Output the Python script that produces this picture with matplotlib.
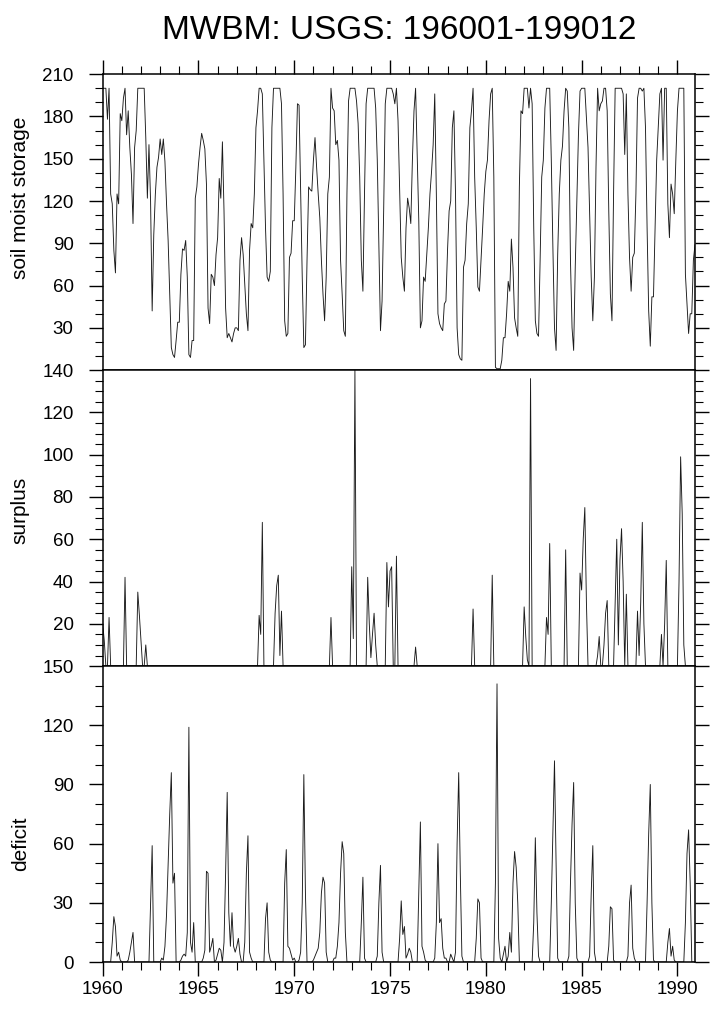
import numpy as np
import matplotlib
matplotlib.use("Agg")
import matplotlib.pyplot as plt
from matplotlib import font_manager

# monthly values 196001-199012, one row per year
soil = [
    200, 200, 200, 178, 200, 125, 118, 85, 69, 125, 118, 182,   # 1960
    177, 193, 200, 167, 184, 158, 139, 104, 158, 170, 200, 200,  # 1961
    200, 200, 200, 165, 122, 160, 120, 42, 96, 125, 144, 151,    # 1962
    164, 153, 164, 148, 118, 92, 54, 16, 11, 9, 21, 34,          # 1963
    34, 68, 86, 85, 92, 66, 11, 9, 21, 21, 122, 130,             # 1964
    146, 158, 168, 163, 157, 132, 44, 33, 68, 66, 60, 82,        # 1965
    94, 136, 122, 162, 113, 44, 23, 26, 23, 20, 26, 30,          # 1966
    30, 28, 78, 94, 82, 61, 40, 28, 85, 104, 101, 125,           # 1967
    172, 184, 200, 200, 196, 148, 101, 66, 63, 70, 172, 200,     # 1968
    200, 200, 200, 200, 189, 125, 35, 24, 26, 80, 83, 106,       # 1969
    106, 144, 189, 188, 125, 66, 16, 18, 78, 130, 128, 127,      # 1970
    149, 165, 144, 125, 108, 78, 54, 35, 66, 125, 137, 200,      # 1971
    186, 184, 160, 163, 149, 78, 54, 28, 24, 125, 191, 200,      # 1972
    200, 200, 200, 191, 175, 137, 78, 56, 125, 189, 200, 200,    # 1973
    200, 200, 200, 186, 149, 89, 28, 49, 113, 189, 200, 200,     # 1974
    200, 200, 196, 189, 200, 177, 127, 80, 66, 56, 101, 122,     # 1975
    115, 104, 149, 184, 200, 153, 106, 30, 35, 66, 63, 82,       # 1976
    101, 125, 141, 160, 196, 125, 40, 33, 30, 28, 47, 49,        # 1977
    85, 113, 120, 172, 184, 125, 30, 11, 8, 7, 73, 78,           # 1978
    104, 118, 172, 184, 200, 137, 101, 59, 56, 78, 101, 125,     # 1979
    141, 149, 177, 196, 200, 137, 2, 1, 1, 1, 7, 23,             # 1980
    23, 40, 63, 56, 93, 73, 37, 30, 24, 130, 184, 182,           # 1981
    200, 200, 200, 186, 200, 189, 101, 35, 26, 24, 78, 137,      # 1982
    149, 186, 200, 200, 200, 149, 87, 30, 14, 82, 125, 149,      # 1983
    159, 184, 200, 198, 172, 78, 30, 14, 73, 120, 167, 198,      # 1984
    200, 200, 200, 179, 158, 111, 66, 35, 66, 144, 200, 184,     # 1985
    189, 191, 200, 200, 184, 113, 54, 35, 125, 200, 200, 200,    # 1986
    200, 200, 196, 153, 196, 125, 80, 56, 80, 83, 125, 193,      # 1987
    200, 200, 198, 200, 172, 101, 42, 17, 52, 52, 101, 149,      # 1988
    172, 196, 200, 149, 200, 200, 118, 94, 132, 125, 111, 149,   # 1989
    184, 200, 200, 200, 200, 68, 47, 26, 40, 40, 78, 89,         # 1990
]

surplus = [
    20, 12, 0, 0, 23, 0, 0, 0, 0, 0, 0, 0,        # 1960
    0, 0, 42, 0, 0, 0, 0, 0, 0, 0, 35, 24,        # 1961
    12, 0, 0, 10, 0, 0, 0, 0, 0, 0, 0, 0,         # 1962
    0, 0, 0, 0, 0, 0, 0, 0, 0, 0, 0, 0,           # 1963
    0, 0, 0, 0, 0, 0, 0, 0, 0, 0, 0, 0,           # 1964
    0, 0, 0, 0, 0, 0, 0, 0, 0, 0, 0, 0,           # 1965
    0, 0, 0, 0, 0, 0, 0, 0, 0, 0, 0, 0,           # 1966
    0, 0, 0, 0, 0, 0, 0, 0, 0, 0, 0, 0,           # 1967
    0, 0, 24, 15, 68, 0, 0, 0, 0, 0, 0, 0,        # 1968
    25, 38, 43, 5, 26, 0, 0, 0, 0, 0, 0, 0,       # 1969
    0, 0, 0, 0, 0, 0, 0, 0, 0, 0, 0, 0,           # 1970
    0, 0, 0, 0, 0, 0, 0, 0, 0, 0, 0, 23,          # 1971
    0, 0, 0, 0, 0, 0, 0, 0, 0, 0, 0, 0,           # 1972
    47, 13, 140, 0, 0, 0, 0, 0, 0, 0, 42, 20,     # 1973
    4, 15, 25, 10, 0, 0, 0, 0, 0, 0, 49, 28,      # 1974
    45, 47, 0, 0, 52, 0, 0, 0, 0, 0, 0, 0,        # 1975
    0, 0, 0, 0, 9, 0, 0, 0, 0, 0, 0, 0,           # 1976
    0, 0, 0, 0, 0, 0, 0, 0, 0, 0, 0, 0,           # 1977
    0, 0, 0, 0, 0, 0, 0, 0, 0, 0, 0, 0,           # 1978
    0, 0, 0, 0, 27, 0, 0, 0, 0, 0, 0, 0,          # 1979
    0, 0, 0, 0, 43, 0, 0, 0, 0, 0, 0, 0,          # 1980
    0, 0, 0, 0, 0, 0, 0, 0, 0, 0, 0, 0,           # 1981
    28, 14, 3, 0, 136, 0, 0, 0, 0, 0, 0, 0,       # 1982
    0, 0, 23, 15, 58, 0, 0, 0, 0, 0, 0, 0,        # 1983
    0, 0, 55, 0, 0, 0, 0, 0, 0, 0, 0, 44,         # 1984
    36, 60, 75, 30, 0, 0, 0, 0, 0, 0, 5, 14,      # 1985
    0, 0, 10, 25, 31, 0, 0, 0, 0, 30, 60, 10,     # 1986
    50, 65, 40, 0, 34, 0, 0, 0, 0, 0, 0, 26,      # 1987
    5, 30, 68, 20, 0, 0, 0, 0, 0, 0, 0, 0,        # 1988
    0, 0, 15, 0, 20, 50, 0, 0, 0, 0, 0, 0,        # 1989
    0, 40, 99, 72, 10, 0, 0, 0, 0, 0, 0, 0,       # 1990
]

deficit = [
    0, 0, 0, 0, 0, 0, 10, 23, 18, 3, 5, 1,        # 1960
    0, 0, 0, 0, 1, 5, 10, 15, 0, 0, 0, 0,         # 1961
    0, 0, 0, 0, 0, 0, 30, 59, 0, 0, 0, 0,         # 1962
    0, 2, 1, 8, 24, 50, 75, 96, 40, 45, 0, 0,     # 1963
    0, 1, 3, 4, 3, 15, 119, 10, 5, 20, 0, 0,      # 1964
    0, 0, 0, 2, 6, 46, 45, 5, 8, 12, 0, 1,        # 1965
    4, 7, 6, 0, 10, 45, 86, 25, 8, 25, 8, 5,      # 1966
    8, 12, 4, 0, 0, 10, 45, 64, 5, 2, 0, 0,       # 1967
    0, 0, 0, 0, 0, 0, 22, 30, 5, 1, 0, 0,         # 1968
    0, 0, 0, 0, 0, 0, 40, 57, 8, 7, 4, 1,         # 1969
    2, 0, 0, 1, 5, 30, 95, 35, 0, 0, 0, 0,        # 1970
    1, 3, 5, 7, 15, 35, 43, 40, 5, 0, 0, 0,       # 1971
    0, 2, 2, 8, 20, 45, 61, 55, 15, 0, 0, 0,      # 1972
    0, 0, 0, 0, 0, 0, 20, 43, 2, 0, 0, 0,         # 1973
    0, 0, 0, 0, 3, 30, 49, 5, 0, 0, 0, 0,         # 1974
    0, 0, 0, 0, 0, 0, 12, 31, 14, 18, 2, 4,       # 1975
    7, 5, 0, 0, 0, 0, 35, 71, 8, 5, 1, 0,         # 1976
    0, 0, 0, 0, 2, 20, 60, 20, 22, 7, 2, 2,       # 1977
    0, 0, 4, 2, 0, 5, 60, 96, 45, 3, 0, 0,        # 1978
    0, 0, 0, 0, 0, 0, 12, 32, 30, 2, 0, 0,        # 1979
    0, 0, 0, 0, 0, 0, 40, 141, 12, 2, 0, 4,       # 1980
    8, 0, 3, 15, 5, 40, 56, 48, 30, 0, 0, 0,      # 1981
    0, 0, 0, 0, 0, 0, 20, 63, 25, 3, 0, 0,        # 1982
    0, 0, 0, 0, 0, 30, 65, 102, 50, 2, 0, 0,      # 1983
    0, 0, 0, 0, 3, 40, 70, 91, 30, 2, 0, 0,       # 1984
    0, 0, 0, 0, 0, 3, 35, 59, 5, 0, 0, 0,         # 1985
    0, 0, 0, 0, 0, 8, 28, 27, 1, 0, 0, 0,         # 1986
    0, 0, 0, 0, 0, 3, 30, 39, 7, 2, 0, 0,         # 1987
    0, 0, 0, 0, 0, 30, 65, 90, 30, 1, 0, 0,       # 1988
    0, 0, 0, 0, 0, 0, 10, 17, 3, 8, 1, 0,         # 1989
    0, 0, 0, 0, 0, 20, 55, 67, 40, 0, 0, 0,       # 1990
]

title = "MWBM: USGS: 196001-199012"
ylabels = ["soil moist storage", "surplus", "deficit"]
year_ticks = [1960, 1965, 1970, 1975, 1980, 1985, 1990]

time = 1960 + np.arange(len(soil)) / 12.0

names = {f.name for f in font_manager.fontManager.ttflist}
plt.rcParams['font.family'] = ['Liberation Sans', 'DejaVu Sans']
narrow = 'Liberation Sans Narrow' if 'Liberation Sans Narrow' in names else 'Liberation Sans'

fig = plt.figure(figsize=(7.19, 10.16), dpi=100)

left, width, h = 0.1428, 0.8238, 0.2913
bottoms = [0.6357, 0.3444, 0.0531]
series = [soil, surplus, deficit]
ylims = [(0, 210), (0, 140), (0, 150)]
majors = [np.arange(30, 211, 30), np.arange(20, 141, 20), np.arange(0, 151, 30)]
minors = [np.arange(10, 210, 10), np.arange(5, 140, 5), np.arange(10, 150, 10)]
label_y = [0.805, 0.498, 0.170]

for k in range(3):
    ax = fig.add_axes([left, bottoms[k], width, h])
    ax.plot(time, series[k], color='#1a1a1a', lw=0.65)
    ax.set_xlim(1960, time[-1])
    ax.set_ylim(*ylims[k])
    ax.set_yticks(majors[k])
    ax.set_yticks(minors[k], minor=True)
    ax.set_xticks(year_ticks)
    ax.set_xticks(np.arange(1960, 1991), minor=True)
    ax.tick_params(axis='y', which='both', direction='out', left=True, right=True,
                   labelleft=True, labelright=False, labelsize=13.5, pad=11)
    ax.tick_params(axis='both', which='major', length=10, width=1.0)
    ax.tick_params(axis='both', which='minor', length=5.5, width=0.8)
    ax.tick_params(axis='x', which='both', direction='out',
                   top=(k == 0), bottom=(k == 2), labeltop=False,
                   labelbottom=(k == 2), labelsize=13.5, pad=4)
    for s in ax.spines.values():
        s.set_linewidth(1.1)
    fig.text(0.028, label_y[k], ylabels[k], rotation=90, ha='center', va='center',
             fontsize=15, family=[narrow, 'DejaVu Sans'])

fig.text(0.5547, 0.970, title, ha='center', va='center', fontsize=24)

fig.savefig("out.png", dpi=100)
